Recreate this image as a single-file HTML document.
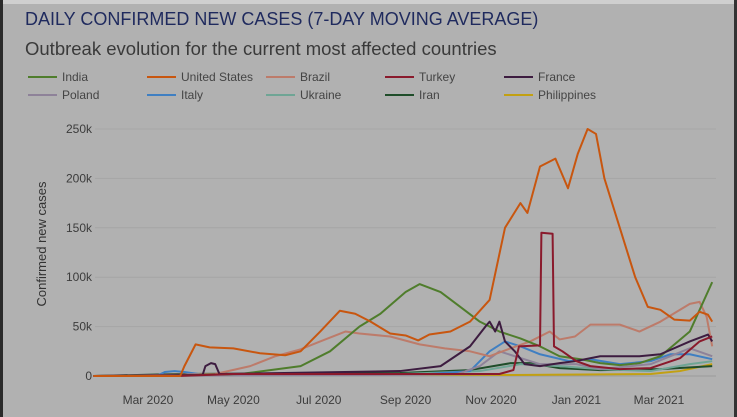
<!DOCTYPE html>
<html><head><meta charset="utf-8"><style>
body{margin:0;width:737px;height:417px;overflow:hidden;background:#b1b1b1;font-family:"Liberation Sans",sans-serif}
#wrap{position:relative;width:737px;height:417px}
.t{position:absolute;white-space:nowrap}
</style></head><body>
<div id="wrap">
<div style="position:absolute;left:0;top:0;width:737px;height:4px;background:#cfcfcf"></div>
<div style="position:absolute;left:0;top:0;width:3px;height:417px;background:#2a2a2a"></div>
<div style="position:absolute;left:734px;top:0;width:3px;height:417px;background:#333"></div>
<div class="t" style="left:25px;top:9px;font-size:18px;color:#1f2a5e">DAILY CONFIRMED NEW CASES (7-DAY MOVING AVERAGE)</div>
<div class="t" style="left:25px;top:38px;font-size:18.5px;color:#3a3a3a">Outbreak evolution for the current most affected countries</div>
<svg id="svg" width="737" height="417" style="position:absolute;left:0;top:0"></svg>
</div>
<script>
const names=["India","United States","Brazil","Turkey","France","Poland","Italy","Ukraine","Iran","Philippines"];
const colors=["#4f7d2c","#c8560f","#bd7b6a","#8a1a2c","#3d1c40","#8e8299","#3f7fc2","#6fa595","#1f4d2a","#c2a012"];
const yTicks=[0,50,100,150,200,250];
const yTickLabels=["0","50k","100k","150k","200k","250k"];
const xTickDays=[39,100,161,223,284,345,404];
const xTickLabels=["Mar 2020","May 2020","Jul 2020","Sep 2020","Nov 2020","Jan 2021","Mar 2021"];
const indiaD=[0,40,105,148,169,190,205,223,233,248,262,276,290,305,319,333,348,362,376,390,405,426,442];
const indiaV=[0,0,2,10,25,50,63,85,93,85,70,55,45,38,30,20,17,13,11,13,20,45,95];
const usD=[0,62,65,73,83,100,119,137,148,162,176,187,198,212,223,232,240,255,269,283,294,305,310,319,330,333,339,346,353,359,365,376,387,396,405,415,426,433,439,442];
const usV=[0,0,10,32,29,28,23,21,25,45,66,63,55,43,41,36,42,45,55,77,150,175,165,212,220,210,190,225,250,245,200,150,100,70,67,57,56,65,62,55];
const brD=[0,87,112,130,148,162,180,190,212,233,251,269,283,298,312,326,333,344,355,376,390,405,426,433,438,442];
const brV=[0,2,10,20,27,35,45,43,40,32,28,25,20,28,35,45,37,40,52,52,45,55,73,75,60,30];
const trD=[0,60,100,290,300,304,319,320,328,329,335,345,355,376,398,419,433,442];
const trV=[0,0,2,2,6,30,31,145,144,30,25,15,10,7,8,18,35,40];
const frD=[0,78,80,84,87,90,219,248,269,280,283,287,290,294,301,308,319,333,344,362,390,405,426,439,442];
const frV=[0,1,10,13,12,2,5,10,30,50,55,45,55,35,25,12,10,13,15,20,20,22,35,42,35];
const plD=[0,200,260,276,290,301,319,345,362,398,426,442];
const plV=[0,1,2,10,25,20,12,12,7,12,28,20];
const itD=[0,45,51,58,65,80,240,269,283,294,305,319,340,355,376,398,412,426,442];
const itV=[0,0,4,5,4,1,2,5,25,35,30,22,15,17,12,15,22,22,17];
const uaD=[0,200,276,305,333,362,398,426,442];
const uaV=[0,1,5,12,10,7,5,12,15];
const irD=[0,60,219,269,298,312,333,362,405,442];
const irV=[0,2,3,6,13,13,8,6,7,10];
const phD=[0,180,300,398,419,442];
const phV=[0,2,1,2,5,12];
const series=[[indiaD,indiaV],[usD,usV],[brD,brV],[trD,trV],[frD,frV],[plD,plV],[itD,itV],[uaD,uaV],[irD,irV],[phD,phV]];
const NS="http://www.w3.org/2000/svg";
const svg=document.getElementById('svg');
function x(d){return 148+(d-39)*1.4;}
function y(v){return 376-v*0.988;}
function mk(t,a){const e=document.createElementNS(NS,t);for(const k in a)e.setAttribute(k,a[k]);svg.appendChild(e);return e;}
yTicks.forEach((v,i)=>{
  const g=mk('line',{x1:95,x2:716,y1:y(v),y2:y(v),stroke:v===0?'#9a9a9a':'#a6a6a6','stroke-width':1});
  
  
  const t=mk('text',{x:92,y:y(v)+4,'text-anchor':'end','font-size':12,fill:'#3c3c3c','font-family':'Liberation Sans, sans-serif'});
  t.textContent=yTickLabels[i];
  
  
});
xTickDays.forEach((d,i)=>{
  const t=mk('text',{x:x(d),y:404,'text-anchor':'middle','font-size':12,fill:'#3c3c3c','font-family':'Liberation Sans, sans-serif'});
  t.textContent=xTickLabels[i];
  
  
});
const yt=mk('text',{x:46,y:244,transform:'rotate(-90 46 244)','text-anchor':'middle','font-size':13,fill:'#333','font-family':'Liberation Sans, sans-serif'});
yt.textContent='Confirmed new cases';


const order=[9,8,7,6,5,2,0,4,3,1];
order.forEach(i=>{
  const [D,V]=series[i];
  const p=mk('polyline',{points:D.map((d,j)=>x(d)+','+y(V[j])).join(' '),fill:'none',stroke:colors[i],'stroke-width':2,'stroke-linejoin':'round'});
  
  
});
names.forEach((n,i)=>{
  const col=i%5,row=Math.floor(i/5);
  const lx=28+col*119,ly=77+row*18;
  const l=mk('line',{x1:lx,x2:lx+29,y1:ly,y2:ly,stroke:colors[i],'stroke-width':2});
  
  
  const t=mk('text',{x:lx+34,y:ly+4,'font-size':12,fill:'#444','font-family':'Liberation Sans, sans-serif'});
  t.textContent=n;
  
  
});
</script>
</body></html>
